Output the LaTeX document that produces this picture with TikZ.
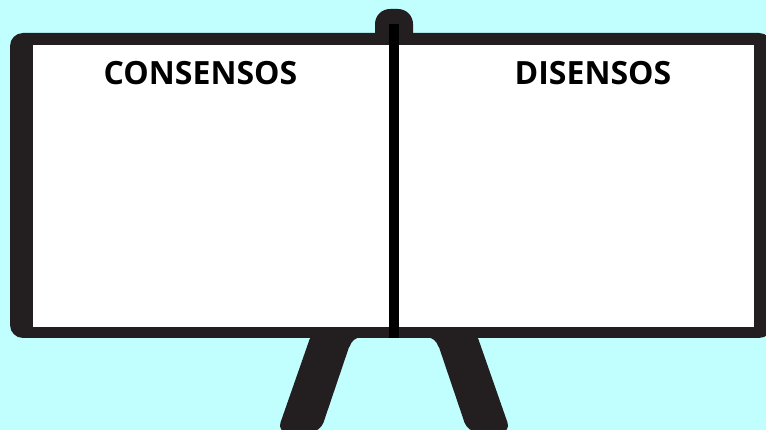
\documentclass[tikz,border=0pt]{standalone}
\usepackage{fontspec}
\setmainfont{Open Sans}
\definecolor{bgcyan}{HTML}{C1FFFF}
\definecolor{framedark}{HTML}{231F20}
\tikzset{
  darkfill/.style={fill=framedark},
  title/.style={font=\bfseries\fontsize{32}{38}\selectfont, anchor=base, inner sep=0pt, text=black}
}
\begin{document}
\begin{tikzpicture}[x=1pt,y=-1pt]
\useasboundingbox (0,0) rectangle (766,430);
\fill[bgcyan] (0,0) rectangle (766,430);
% legs
\fill[darkfill, rounded corners=10] (312.8,330) -- (277.2,432) -- (320.3,432) -- (354.8,330) -- cycle;
\fill[darkfill, rounded corners=10] (475.2,330) -- (510.8,432) -- (467.7,432) -- (433.2,330) -- cycle;
% fillets
\fill[darkfill] (346,337) -- (362,337) .. controls (355,338) and (352,340) .. (349.5,347) -- cycle;
\fill[darkfill] (442,337) -- (426,337) .. controls (433,338) and (436,340) .. (438.5,347) -- cycle;
% knob
\fill[darkfill] (375,40) [rounded corners=15] -- (375,9) -- (413,9) [sharp corners] -- (413,40) -- cycle;
% frame
\fill[darkfill, rounded corners=13] (10,33) rectangle (772,338);
\fill[white] (33,45) rectangle (754,327);
% divider
\fill[black] (389,24) rectangle (399,338);
% titles
\node[title] (cons) at (200.5,85) {CONSENSOS};
\node[title] (dis) at (593,85) {DISENSOS};
\end{tikzpicture}
\end{document}
